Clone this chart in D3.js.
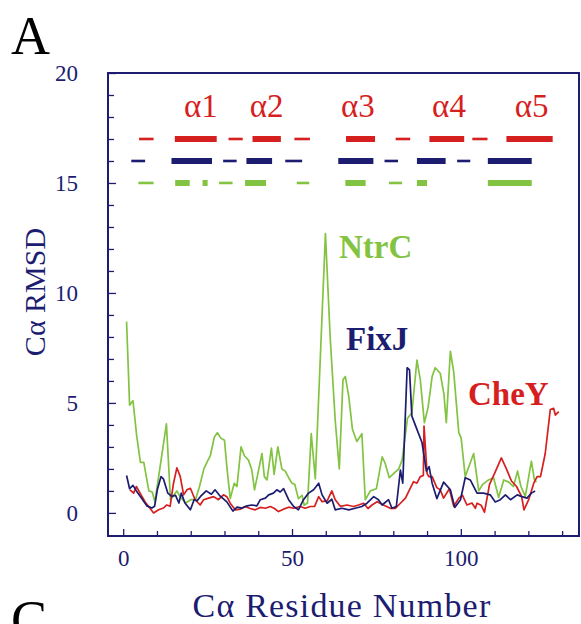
<!DOCTYPE html>
<html>
<head>
<meta charset="utf-8">
<title>Ca RMSD</title>
<script src="https://d3js.org/d3.v7.min.js"></script>
<style>
  body { margin: 0; background: #fff; }
  text { font-family: "Liberation Serif", "Times New Roman", serif; }
</style>
</head>
<body>
<script>

// residue / rmsd pairs
var ntrcRes = [1.0,1.9,2.9,4.0,5.1,6.1,7.6,8.6,9.4,12.8,14.0,15.9,17.0,18.5,20.0,21.4,22.6,23.9,24.8,25.8,27.0,27.9,28.9,30.0,30.7,31.7,32.9,33.7,34.9,35.9,37.1,38.1,38.9,39.9,41.1,41.8,42.6,43.9,44.7,45.8,47.0,48.0,49.0,50.0,50.8,51.9,53.0,53.6,54.6,55.7,56.9,59.9,61.3,62.8,64.0,65.1,65.8,66.8,67.9,69.2,70.7,71.7,73.2,75.0,76.7,77.6,78.8,81.6,82.6,84.2,85.5,87.0,88.0,89.2,90.3,91.5,92.4,93.9,95.0,95.7,96.9,97.9,99.4,100.1,101.3,103.8,105.3,106.5,108.2,109.7,111.2,112.7,114.2,115.6,116.8,117.8,119.1,120.9,121.8,122.4];
var ntrcVal = [8.7,4.9,5.1,3.5,2.3,2.3,1.0,0.95,0.5,4.05,0.6,1.0,0.7,0.45,0.6,0.6,1.2,2.0,2.3,2.6,3.45,3.65,3.4,3.3,2.1,0.65,1.35,1.2,3.0,2.6,2.4,1.95,1.05,1.8,2.7,1.65,1.5,2.95,1.75,3.0,2.0,1.9,1.6,1.35,1.3,0.65,0.8,0.35,0.45,3.6,1.55,12.7,8.0,4.2,2.0,6.05,6.2,5.3,3.8,3.25,3.6,0.6,1.0,1.1,2.55,2.25,1.6,2.0,2.4,4.3,4.55,6.95,6.05,4.1,4.8,6.2,6.6,6.35,5.4,4.1,7.35,6.4,3.65,3.4,1.65,2.7,1.0,1.3,1.5,1.6,0.7,1.5,1.4,1.2,1.9,1.2,0.75,2.35,1.5,1.4];

var fixjRes = [1.0,1.9,2.9,3.9,5.3,7.0,8.5,9.3,10.1,11.2,11.9,13.2,14.4,15.5,16.5,17.2,18.3,19.9,21.0,21.9,22.9,24.6,26.1,27.2,28.5,30.7,32.5,33.7,35.2,36.7,38.1,39.6,40.6,42.1,43.1,44.5,45.5,46.5,47.5,49.0,50.5,51.9,53.4,54.9,56.4,57.9,58.9,60.4,61.8,62.8,64.8,66.8,68.7,70.7,72.2,74.2,75.6,76.7,78.6,79.6,80.9,82.1,82.8,84.1,84.8,85.5,87.0,88.5,89.8,90.6,91.5,92.9,94.9,96.9,98.2,99.9,101.3,102.8,104.8,106.7,108.7,110.2,111.7,113.2,114.7,116.7,118.1,119.6,120.9,122.0];
var fixjVal = [1.7,1.1,1.25,1.0,0.7,0.32,0.22,0.3,1.05,1.65,1.55,0.9,0.75,0.8,0.45,0.9,0.45,0.14,0.6,0.55,0.75,1.0,0.85,1.05,0.8,0.5,0.08,0.26,0.22,0.32,0.36,0.32,0.6,0.67,0.82,0.9,1.05,0.95,1.1,0.6,0.29,0.14,0.6,0.9,1.05,1.35,0.82,0.44,0.62,0.14,0.21,0.14,0.21,0.29,0.44,0.74,0.6,0.36,0.6,0.21,0.29,1.95,1.35,6.6,6.5,4.4,3.8,3.2,1.9,2.1,1.35,0.65,1.4,1.05,0.25,0.6,1.6,1.5,0.9,0.9,0.82,0.5,0.6,0.82,0.6,0.82,0.74,0.67,0.9,1.0];

var cheyRes = [2.0,3.1,3.9,5.0,6.5,8.0,9.0,10.5,11.9,12.9,13.9,14.9,15.9,16.9,17.9,18.9,19.9,21.3,22.8,23.8,25.3,26.8,28.2,29.7,30.7,31.7,33.2,34.7,36.1,37.6,39.1,40.6,42.1,43.6,44.8,46.0,47.5,49.0,50.5,52.4,53.9,55.4,56.7,57.9,58.9,60.4,61.8,62.8,64.3,66.3,68.2,69.7,71.2,72.5,73.7,75.2,77.1,79.1,80.6,82.1,83.6,85.0,86.0,87.0,88.0,88.9,89.1,90.0,90.5,91.5,92.9,93.9,94.9,96.6,97.9,99.4,100.5,101.8,103.3,104.3,104.8,106.0,107.0,108.5,110.0,112.0,113.5,115.0,116.5,118.0,118.7,120.1,121.6,122.6,123.6,125.0,126.5,127.5,128.0,129.0];
var cheyVal = [1.05,0.9,1.2,0.9,0.5,0.2,0.0,0.14,0.22,0.36,0.3,1.35,2.05,1.65,0.82,1.05,1.12,0.6,0.36,0.6,0.67,0.74,0.6,0.82,0.74,0.44,0.14,0.17,0.29,0.2,0.14,0.25,0.21,0.29,0.2,0.06,0.17,0.26,0.21,0.29,0.21,0.29,0.3,0.74,0.51,0.55,1.0,0.6,0.3,0.36,0.29,0.36,0.44,0.2,0.36,0.51,0.36,0.21,0.21,0.44,0.67,1.12,1.42,1.35,1.65,1.7,3.95,1.8,1.65,1.65,1.15,1.05,0.67,1.1,0.3,0.67,0.8,0.36,0.45,0.21,0.44,0.35,0.03,1.3,1.8,2.5,2.0,1.45,1.2,0.75,0.14,0.6,1.35,1.65,1.65,2.7,4.7,4.75,4.45,4.6];

// secondary structure segments: [start, end, thick?]
var cheySS = [[4.7,9.0,0],[15.3,27.7,1],[31.2,35.4,0],[38.3,46.7,1],[50.7,55.3,0],[66,74.6,1],[80.7,85,0],[90.7,101,1],[103.4,107.9,0],[113.5,127.2,1]];
var fixjSS = [[2.4,6.5,0],[14.3,26.3,1],[29.6,33.6,0],[36.5,44.1,1],[48,53,0],[63.7,74.1,1],[77.4,81.4,0],[87,95.5,1],[98.9,102.8,0],[108,121,1]];
var ntrcSS = [[4.5,9,0],[15.4,19.7,1],[23.5,25,1],[28.4,32.4,0],[36.1,42.3,1],[51.4,55.1,0],[65.8,71.8,1],[78.7,82.6,0],[87,90,1],[108,121,1]];

var helixNames = ["\u03b11","\u03b12","\u03b13","\u03b14","\u03b15"];
var helixPos = [23,42.5,69.5,96.5,121];

var yTicks = d3.range(0, 21, 1);
var xTicks = d3.range(0, 131, 10);

var navy = "#1c1c70", red = "#d61f1f", green = "#82c341";
var serif = "'Liberation Serif', 'DejaVu Serif', serif";

var svg = d3.select("body").append("svg")
    .attr("width", 581)
    .attr("height", 624);

var x = d3.scaleLinear().domain([-4.5, 135]).range([108, 579]);
var y = d3.scaleLinear().domain([-1.05, 20]).range([536, 73]);

// axes
svg.append("g")
    .attr("transform", "translate(108,0)")
    .call(d3.axisLeft(y).tickValues(yTicks).tickSize(-6).tickPadding(30)
      .tickFormat(function(d){ return d % 5 == 0 ? d : ""; }))
    .call(function(g){
      g.select(".domain").remove();
      g.selectAll("line").attr("stroke", navy).attr("stroke-width", 1.3)
        .attr("x2", function(d){ return d % 5 == 0 ? 8 : 6; });
      g.selectAll("text").attr("fill", navy).style("font-size", "23px")
        .style("font-family", serif);
    });

svg.append("g")
    .attr("transform", "translate(0,536)")
    .call(d3.axisBottom(x).tickValues(xTicks).tickSize(-5).tickPadding(14)
      .tickFormat(function(d){ return d % 50 == 0 ? d : ""; }))
    .call(function(g){
      g.select(".domain").remove();
      g.selectAll("line").attr("stroke", navy).attr("stroke-width", 1.3)
        .attr("y2", function(d){ return d % 50 == 0 ? -7 : -5; });
      g.selectAll("text").attr("fill", navy).style("font-size", "23px")
        .style("font-family", serif);
    });

// frame
svg.append("rect")
    .attr("x", x(-4.5)).attr("y", y(20))
    .attr("width", x(135) - x(-4.5)).attr("height", y(-1.05) - y(20))
    .attr("fill", "none").attr("stroke", navy).attr("stroke-width", 2);

// secondary structure bars
function ssBars(segs, level, color){
  svg.append("g").selectAll("line").data(segs).enter().append("line")
    .attr("x1", function(d){ return x(d[0]); })
    .attr("x2", function(d){ return x(d[1]); })
    .attr("y1", y(level)).attr("y2", y(level))
    .attr("stroke", color)
    .attr("stroke-width", function(d){ return d[2] ? 6 : 2.6; });
}
ssBars(cheySS, 17, red);
ssBars(fixjSS, 16, navy);
ssBars(ntrcSS, 15, green);

svg.append("g").selectAll("text").data(helixNames).enter().append("text")
    .attr("x", function(d,i){ return x(helixPos[i]); })
    .attr("y", 117)
    .attr("text-anchor", "middle")
    .attr("fill", red)
    .style("font-family", serif)
    .style("font-size", "33px")
    .text(function(d){ return d; });

// curves
var line = d3.line()
    .x(function(d){ return x(d[0]); })
    .y(function(d){ return y(d[1]); });

function curve(res, val, color){
  svg.append("path")
    .datum(d3.zip(res, val))
    .attr("d", line)
    .attr("fill", "none")
    .attr("stroke", color)
    .attr("stroke-width", 1.7)
    .attr("stroke-linejoin", "round");
}
curve(ntrcRes, ntrcVal, green);
curve(cheyRes, cheyVal, red);
curve(fixjRes, fixjVal, navy);

// series labels
svg.append("text").attr("x", 339).attr("y", 258).attr("fill", green)
    .style("font-size", "33px").style("font-weight", "bold").text("NtrC");
svg.append("text").attr("x", 346).attr("y", 350).attr("fill", navy)
    .style("font-size", "33px").style("font-weight", "bold").text("FixJ");
svg.append("text").attr("x", 468).attr("y", 405).attr("fill", red)
    .style("font-size", "33px").style("font-weight", "bold").text("CheY");

// axis titles
svg.append("text")
    .attr("transform", "translate(45,292) rotate(-90)")
    .attr("text-anchor", "middle")
    .attr("fill", navy)
    .style("font-family", serif)
    .style("font-size", "30px")
    .text("C\u03b1 RMSD");

svg.append("text")
    .attr("x", 342).attr("y", 617)
    .attr("text-anchor", "middle")
    .attr("fill", navy)
    .style("font-family", serif)
    .style("font-size", "34px")
    .style("letter-spacing", "1.2px")
    .text("C\u03b1 Residue Number");

// panel letters
svg.append("text").attr("x", 11).attr("y", 54)
    .style("font-size", "54px").text("A");
svg.append("text").attr("x", 11).attr("y", 638)
    .style("font-size", "54px").text("C");

</script>
</body>
</html>
